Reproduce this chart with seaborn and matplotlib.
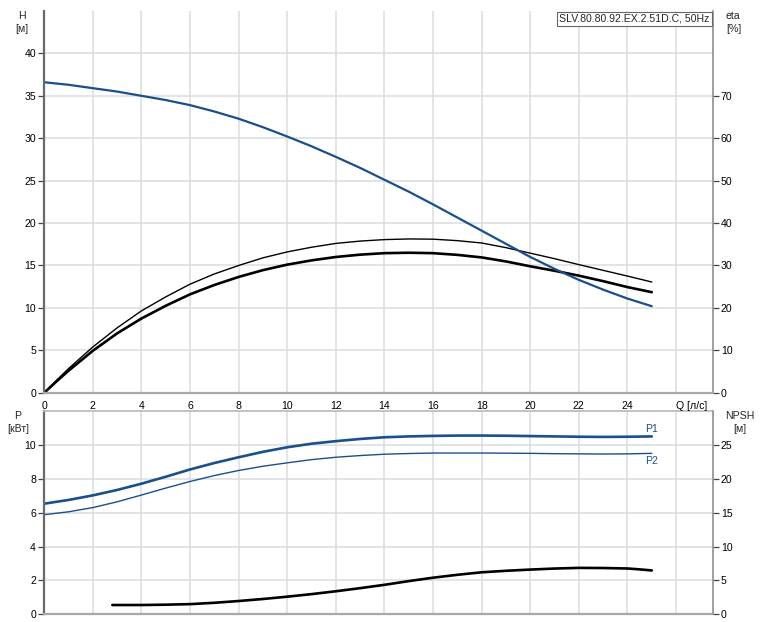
import matplotlib
matplotlib.use("Agg")
import matplotlib.pyplot as plt
import seaborn as sns
import pandas as pd

# ---------------- data ----------------
q_h = [0, 1, 2, 3, 4, 5, 6, 7, 8, 9, 10, 11, 12, 13, 14, 15, 16, 17, 18, 19, 20, 21, 22, 23, 24, 25]
h_vals = [36.6, 36.3, 35.9, 35.5, 35.0, 34.5, 33.9, 33.15, 32.3, 31.3, 30.2, 29.05, 27.8, 26.5,
          25.1, 23.7, 22.2, 20.65, 19.1, 17.55, 16.0, 14.6, 13.3, 12.15, 11.1, 10.2]

q_eta = [0, 0.5, 1, 2, 3, 4, 5, 6, 7, 8, 9, 10, 11, 12, 13, 14, 15, 16, 17, 18, 19, 20, 21, 22, 23, 24, 25]
eta_thin = [0, 2.9, 5.7, 10.8, 15.3, 19.3, 22.6, 25.6, 28.0, 30.0, 31.8, 33.2, 34.3, 35.2, 35.75,
            36.1, 36.25, 36.2, 35.85, 35.3, 34.2, 32.9, 31.6, 30.2, 28.85, 27.5, 26.1]
eta_thick = [0, 2.65, 5.2, 9.9, 14.0, 17.5, 20.5, 23.2, 25.4, 27.3, 28.9, 30.2, 31.2, 32.0, 32.55,
             32.9, 33.0, 32.9, 32.5, 31.9, 30.95, 29.8, 28.75, 27.6, 26.3, 24.9, 23.7]

q_p = [0, 1, 2, 3, 4, 5, 6, 7, 8, 9, 10, 11, 12, 13, 14, 15, 16, 17, 18, 19, 20, 21, 22, 23, 24, 25]
p1_vals = [6.53, 6.75, 7.02, 7.34, 7.71, 8.12, 8.55, 8.93, 9.27, 9.59, 9.86, 10.07, 10.22, 10.35,
           10.45, 10.50, 10.53, 10.55, 10.55, 10.54, 10.52, 10.50, 10.48, 10.47, 10.48, 10.50]
p2_vals = [5.88, 6.05, 6.30, 6.64, 7.04, 7.45, 7.84, 8.19, 8.49, 8.74, 8.94, 9.13, 9.27, 9.37,
           9.45, 9.49, 9.52, 9.52, 9.52, 9.51, 9.50, 9.48, 9.47, 9.46, 9.47, 9.50]

q_npsh = [2.8, 4, 5, 6, 7, 8, 9, 10, 11, 12, 13, 14, 15, 16, 17, 18, 19, 20, 21, 22, 23, 24, 24.5, 25]
npsh_vals = [1.37, 1.37, 1.42, 1.5, 1.7, 1.96, 2.26, 2.6, 2.98, 3.4, 3.86, 4.35, 4.9, 5.4, 5.83,
             6.2, 6.42, 6.6, 6.75, 6.85, 6.83, 6.76, 6.63, 6.47]

q_ticks = list(range(0, 27, 2))
q_ticklabels = [str(v) for v in q_ticks[:-1]] + ["Q [л/с]"]
h_ticks = list(range(0, 41, 5))
eta_ticks = list(range(0, 71, 10))
p_ticks = list(range(0, 11, 2))
npsh_ticks = list(range(0, 26, 5))

title_text = "SLV.80.80.92.EX.2.51D.C, 50Hz"

# ---------------- style ----------------
sns.set_style("white")
plt.rcParams["font.family"] = ["Liberation Sans", "DejaVu Sans"]
FS = 7.6
plt.rcParams["font.size"] = FS

BLUE = "#1a4f8a"
GRID = "#dadcdf"
SPINE = "#8f8f8f"

W, H = 761, 622
fig = plt.figure(figsize=(W / 100, H / 100), dpi=100)
x0, x1 = 44.3, 712.5
ax1 = fig.add_axes([x0 / W, 1 - 392.7 / H, (x1 - x0) / W, (392.7 - 11) / H])
ax2 = fig.add_axes([x0 / W, 1 - 614.3 / H, (x1 - x0) / W, (614.3 - 411) / H])
ax1r = ax1.twinx()
ax2r = ax2.twinx()

df_h = pd.DataFrame({"Q": q_h, "H": h_vals})
df_eta = pd.DataFrame({"Q": q_eta, "thin": eta_thin, "thick": eta_thick})
df_p1 = pd.DataFrame({"Q": q_p, "P1": p1_vals, "P2": p2_vals})
df_n = pd.DataFrame({"Q": q_npsh, "NPSH": npsh_vals})

# layering: right twin (eta + grid) below, left axes (H) on top
ax1r.set_zorder(0)
ax1.set_zorder(1)
ax1.patch.set_visible(False)
ax1r.patch.set_visible(True)
ax1r.patch.set_facecolor("white")

# top panel
for v in q_ticks[1:]:
    ax1r.axvline(v, color=GRID, lw=1.1, zorder=0)
for v in h_ticks[1:]:
    ax1r.axhline(v * 2, color=GRID, lw=1.1, zorder=0)
sns.lineplot(data=df_eta, x="Q", y="thin", ax=ax1r, color="black", linewidth=1.0)
sns.lineplot(data=df_eta, x="Q", y="thick", ax=ax1r, color="black", linewidth=1.9)
sns.lineplot(data=df_h, x="Q", y="H", ax=ax1, color=BLUE, linewidth=1.6)

# bottom panel
sns.lineplot(data=df_p1, x="Q", y="P1", ax=ax2, color=BLUE, linewidth=1.9)
sns.lineplot(data=df_p1, x="Q", y="P2", ax=ax2, color=BLUE, linewidth=1.0)
sns.lineplot(data=df_n, x="Q", y="NPSH", ax=ax2r, color="black", linewidth=1.9)

for a in (ax1, ax2, ax1r, ax2r):
    a.set_xlim(0, 27.5)
    a.set_xlabel("")
    a.set_ylabel("")

ax1.set_ylim(0, 45)
ax1r.set_ylim(0, 90)
ax2.set_ylim(0, 12)
ax2r.set_ylim(0, 30)

ax1.set_xticks(q_ticks)
ax1.set_xticklabels(q_ticklabels)
ax1.get_xticklabels()[-1].set_ha("left")
ax1.set_yticks(h_ticks)
ax1.grid(False)
ax1r.grid(False)
ax1r.set_yticks(eta_ticks)
ax1r.tick_params(axis="x", bottom=False, labelbottom=False)

ax2.set_xticks(q_ticks)
ax2.set_yticks(p_ticks)
ax2.grid(True, color=GRID, lw=1.1)
ax2.set_axisbelow(True)
ax2.set_xticklabels([])
ax2r.grid(False)
ax2r.set_yticks(npsh_ticks)

tick_kw = dict(direction="out", length=4, width=0.9, color="#444444",
               labelsize=FS, labelcolor="black", pad=2)
for a in (ax1, ax2, ax1r, ax2r):
    a.tick_params(**tick_kw)

# spines
for a in (ax1, ax1r):
    a.spines["top"].set_visible(False)
ax1.spines["right"].set_visible(False)
ax1r.spines["left"].set_visible(False)
ax1r.spines["bottom"].set_visible(False)
ax2r.spines["left"].set_visible(False)
ax2r.spines["bottom"].set_visible(False)
ax2r.spines["top"].set_visible(False)
ax2.spines["right"].set_visible(False)
for a in (ax1, ax2):
    a.spines["left"].set_color("#6a6a6a")
    a.spines["left"].set_linewidth(1.6)
    a.spines["bottom"].set_color("#a8a8a8")
    a.spines["bottom"].set_linewidth(1.6)
ax2.spines["top"].set_color("#b8b8b8")
ax2.spines["top"].set_linewidth(1.2)
for a in (ax1r, ax2r):
    a.spines["right"].set_color(SPINE)
    a.spines["right"].set_linewidth(1.2)

# title box
ax1.annotate(title_text, xy=(1, 1), xycoords="axes fraction",
             xytext=(-2.0, -2.0), textcoords="offset points",
             ha="right", va="top", fontsize=FS,
             bbox=dict(boxstyle="square,pad=0.2", fc="white", ec="#666666", lw=0.8),
             zorder=10)

# axis unit labels
fig.text(22 / W, 1 - 11 / H, "H\n[м]", ha="center", va="top", fontsize=FS, linespacing=1.35)
fig.text(726 / W, 1 - 11 / H, "eta\n[%]", ha="left", va="top", fontsize=FS, linespacing=1.35)
fig.text(18 / W, 1 - 411 / H, "P\n[кВт]", ha="center", va="top", fontsize=FS, linespacing=1.35)
fig.text(740 / W, 1 - 411 / H, "NPSH\n[м]", ha="center", va="top", fontsize=FS, linespacing=1.35)

# curve labels
ax2.annotate("P1", xy=(q_p[-1], p1_vals[-1]), xytext=(0, 5), textcoords="offset points",
             ha="center", va="center", color=BLUE, fontsize=FS)
ax2.annotate("P2", xy=(q_p[-1], p2_vals[-1]), xytext=(0, -5.5), textcoords="offset points",
             ha="center", va="center", color=BLUE, fontsize=FS)

fig.savefig("out.png", dpi=100)
